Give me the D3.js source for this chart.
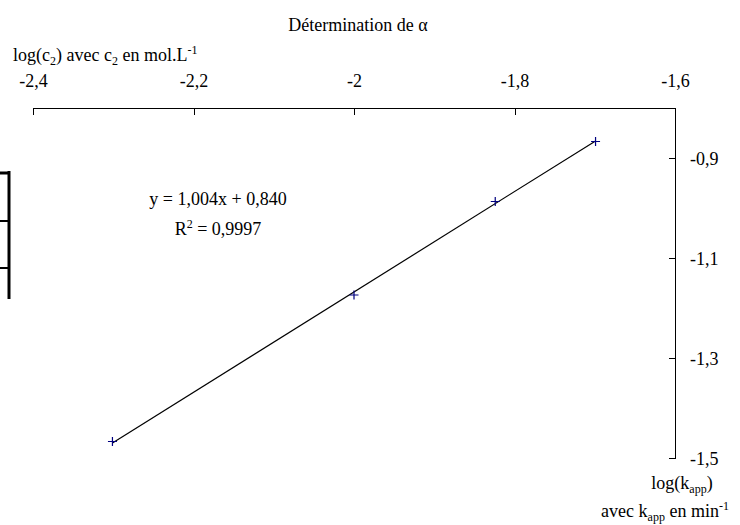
<!DOCTYPE html>
<meta charset="utf-8">
<style>
  body { margin: 0; background: #fff; }
  text { font-family: "Liberation Serif", "Times New Roman", serif; fill: #000; }
  .axis path, .axis line { stroke: #000; stroke-width: 1px; shape-rendering: crispEdges; }
</style>
<body>
<script src="https://cdn.jsdelivr.net/npm/d3@7"></script>
<script>

  // log(c2) and log(k_app)
  var logC2 = [-2.301, -2.0, -1.824, -1.699];
  var logK = [-1.467, -1.174, -0.987, -0.867];

  // trend line y = a x + b
  var slope = 1.004, intercept = 0.840;
  var eqLabel = "y = 1,004x + 0,840";
  var r2Value = "0,9997";

  var xTicks = [-2.4, -2.2, -2.0, -1.8, -1.6];
  var xTickLabels = ["-2,4", "-2,2", "-2", "-1,8", "-1,6"];
  var yTicks = [-1.5, -1.3, -1.1, -0.9];
  var yTickLabels = ["-1,5", "-1,3", "-1,1", "-0,9"];

  var width = 740,
      height = 525;

  var svg = d3.select("body").append("svg")
      .attr("width", width)
      .attr("height", height);

  var x = d3.scaleLinear().domain([-2.4, -1.6]).range([33, 675]);
  var y = d3.scaleLinear().domain([-1.5, -0.8]).range([458, 108]);

  // left-over table border on the left edge
  var box = svg.append("g").attr("stroke", "#000").attr("fill", "none");
  box.append("path").attr("d", "M0,173H9").attr("stroke-width", 3);
  box.append("path").attr("d", "M9,171V299").attr("stroke-width", 3);
  box.append("path").attr("d", "M0,221H9").attr("stroke-width", 2);
  box.append("path").attr("d", "M0,268H9").attr("stroke-width", 2);

  // top x axis, ticks pointing down
  var xAxis = svg.append("g")
      .attr("class", "axis")
      .attr("transform", "translate(0," + y(-0.8) + ")")
      .call(d3.axisTop(x)
        .tickValues(xTicks)
        .tickFormat(function(d, i) { return xTickLabels[i]; })
        .tickSize(-7)
        .tickSizeOuter(0)
        .tickPadding(21));

  // right y axis, ticks pointing left
  var yAxis = svg.append("g")
      .attr("class", "axis")
      .attr("transform", "translate(" + x(-1.6) + ",0)")
      .call(d3.axisRight(y)
        .tickValues(yTicks)
        .tickFormat(function(d, i) { return yTickLabels[i]; })
        .tickSize(-6)
        .tickSizeOuter(0)
        .tickPadding(15));
  yAxis.selectAll(".tick text").attr("dy", "0.38em");

  svg.selectAll(".axis .tick text")
      .style("font-family", "'Liberation Serif', 'Times New Roman', serif")
      .style("font-size", "18px");
  svg.selectAll(".axis .domain").attr("fill", "none");

  // trend line between the extreme points
  var xmin = d3.min(logC2), xmax = d3.max(logC2);
  svg.append("line")
      .attr("x1", x(xmin)).attr("y1", y(slope * xmin + intercept))
      .attr("x2", x(xmax)).attr("y2", y(slope * xmax + intercept))
      .attr("stroke", "#000")
      .attr("stroke-width", 1.2);

  // + markers
  var pts = svg.append("g").attr("stroke", "#000080").attr("stroke-width", 1.2);
  logC2.forEach(function(v, i) {
    var cx = x(v), cy = y(logK[i]);
    pts.append("path")
      .attr("d", "M" + (cx - 4.5) + "," + cy + "H" + (cx + 4.5) + "M" + cx + "," + (cy - 4.5) + "V" + (cy + 4.5));
  });

  // title
  svg.append("text")
      .attr("x", 358).attr("y", 31)
      .attr("text-anchor", "middle")
      .style("font-size", "18px")
      .text("Détermination de α");

  // x axis title
  var xt = svg.append("text")
      .attr("x", 13).attr("y", 61)
      .style("font-size", "18px");
  xt.append("tspan").text("log(c");
  xt.append("tspan").attr("dy", 4).style("font-size", "12px").text("2");
  xt.append("tspan").attr("dy", -4).text(") avec c");
  xt.append("tspan").attr("dy", 4).style("font-size", "12px").text("2");
  xt.append("tspan").attr("dy", -4).text(" en mol.L");
  xt.append("tspan").attr("dy", -7).style("font-size", "12px").text("-1");

  // y axis title
  var yt1 = svg.append("text")
      .attr("x", 682).attr("y", 489)
      .attr("text-anchor", "middle")
      .style("font-size", "18px");
  yt1.append("tspan").text("log(k");
  yt1.append("tspan").attr("dy", 4).style("font-size", "12px").text("app");
  yt1.append("tspan").attr("dy", -4).text(")");

  var yt2 = svg.append("text")
      .attr("x", 665).attr("y", 517)
      .attr("text-anchor", "middle")
      .style("font-size", "18px");
  yt2.append("tspan").text("avec k");
  yt2.append("tspan").attr("dy", 4).style("font-size", "12px").text("app");
  yt2.append("tspan").attr("dy", -4).text(" en min");
  yt2.append("tspan").attr("dy", -7).style("font-size", "12px").text("-1");

  // equation and R²
  svg.append("text")
      .attr("x", 218).attr("y", 205)
      .attr("text-anchor", "middle")
      .style("font-size", "18px")
      .text(eqLabel);
  var r2 = svg.append("text")
      .attr("x", 218).attr("y", 235)
      .attr("text-anchor", "middle")
      .style("font-size", "18px");
  r2.append("tspan").text("R");
  r2.append("tspan").attr("dy", -7).style("font-size", "12px").text("2");
  r2.append("tspan").attr("dy", 7).text(" = " + r2Value);

</script>
</body>
